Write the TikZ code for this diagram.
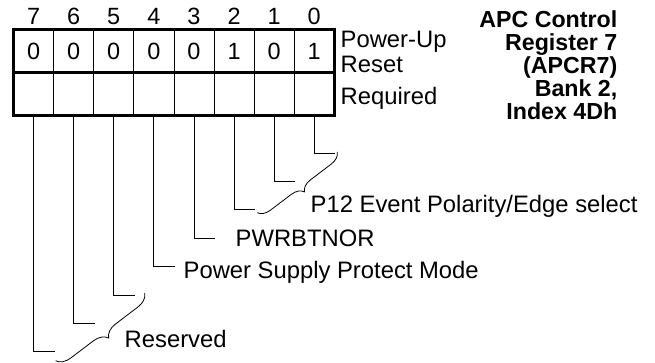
\documentclass[tikz,border=0pt]{standalone}
\usepackage{fontspec}
\setmainfont{Liberation Sans}
\usetikzlibrary{positioning,decorations.pathreplacing}

\begin{document}
\begin{tikzpicture}[
    x=1pt, y=-1pt,
    cell/.style={
        rectangle, draw, line width=0.8pt, minimum width=40.1pt,
        minimum height=42.5pt, inner sep=0pt,
        font=\fontsize{23.5}{25}\selectfont
    },
    frame/.style={line width=3pt},
    lead/.style={line width=0.8pt},
    bitnum/.style={inner sep=0pt, font=\fontsize{23.5}{25}\selectfont},
    lbl/.style={inner sep=0pt, anchor=base west, align=left,
        font=\fontsize{23.8}{25}\selectfont},
    title/.style={inner sep=0pt, anchor=north east, align=right,
        font=\bfseries\fontsize{23.2}{23}\selectfont},
    brc/.style={decorate, decoration={brace, amplitude=12pt}, line width=0.8pt}
]
\useasboundingbox (0,0) rectangle (655,363);

% register: bit 7 on the left
\foreach \b/\v [evaluate=\b as \cx using 13.5+40.1*(7.5-\b)] in {7/0,6/0,5/0,4/0,3/0,2/1,1/0,0/1} {
    \node[cell] (v\b) at (\cx,51.25) {\v};
    \node[cell] (r\b) at (\cx,93.75) {};
    \node[bitnum, above=5pt of v\b] (h\b) {\b};
}
\draw[frame] (v7.north west) rectangle (r0.south east);
\draw[frame] (v7.south west) -- (v0.south east);

\node[lbl, anchor=north west] (pur) at (340.5,30.5) {Power-Up\\Reset};
\node[lbl] (req) at (340.5,105) {Required};
\node[title] (ttl) at (617.5,10.5) {APC Control\\Register 7\\(APCR7)\\Bank 2,\\Index 4Dh};

% leaders
\foreach \b [evaluate=\b as \y using 153+28.4*\b,
             evaluate=\b as \ex using 13.5+40.1*(7.5-\b)+21] in {0,...,7} {
    \coordinate (e\b) at (\ex,\y);
    \draw[lead] (r\b.south) |- (e\b);
}

\draw[brc] ([shift={(2,-1)}]e0) -- ([shift={(2,3)}]e2);
\draw[brc, decoration={amplitude=14pt}] ([shift={(10,-2)}]e5) -- ([shift={(1,9)}]e7);

\node[lbl] (p12) at (310.5,213) {P12 Event Polarity/Edge select};
\node[lbl] (pwr) at (235.5,247) {PWRBTNOR};
\node[lbl] (psp) at (183.5,278) {Power Supply Protect Mode};
\node[lbl] (rsv) at (124.5,347) {Reserved};
\end{tikzpicture}
\end{document}
